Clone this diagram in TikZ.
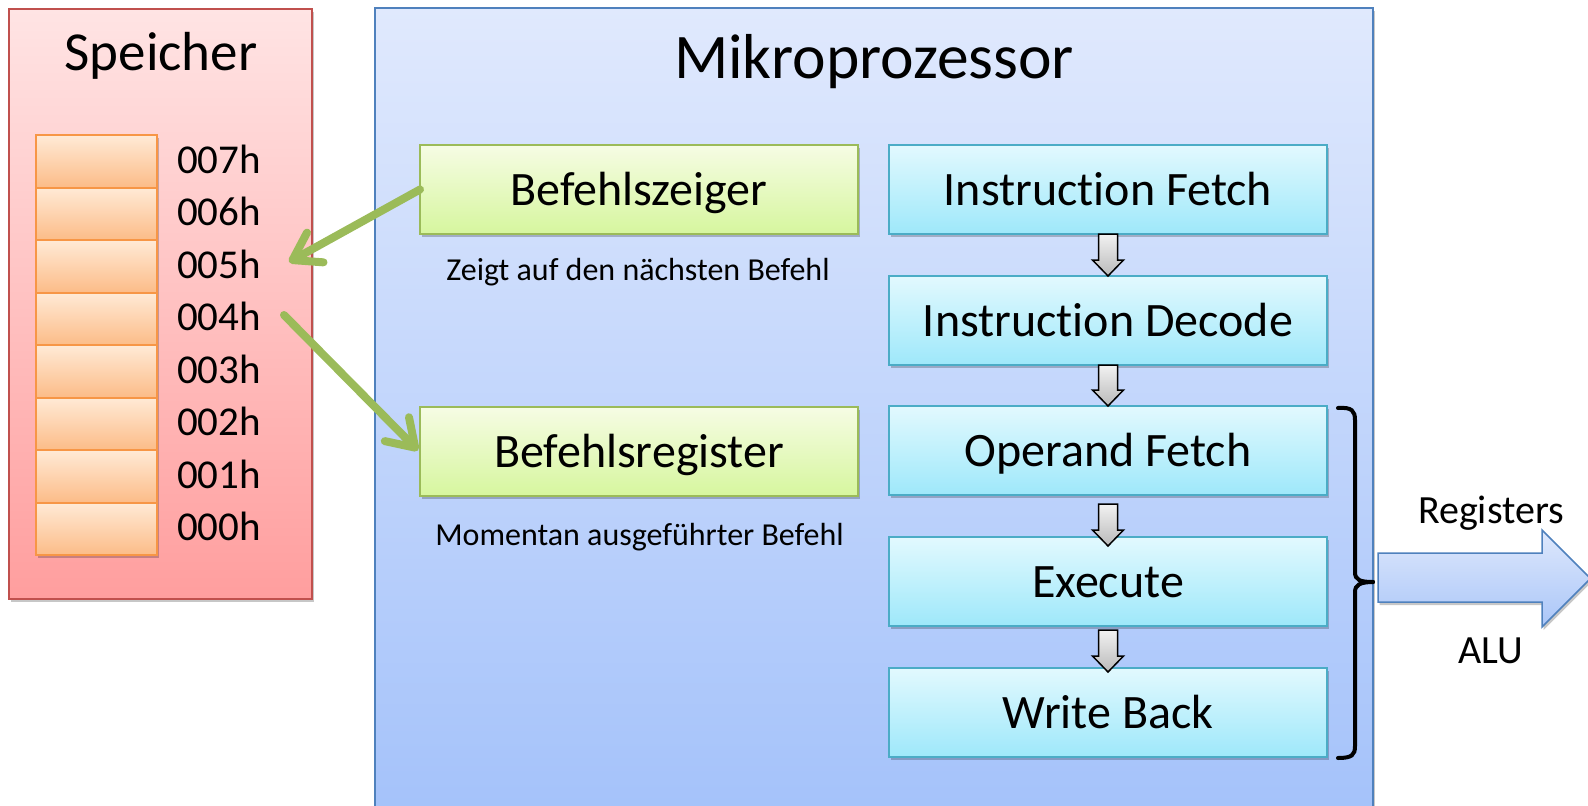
\documentclass[tikz,border=0pt]{standalone}
\usepackage{fontspec}
\setmainfont{Carlito}[Ligatures=NoCommon]
\usetikzlibrary{calc,shadows,arrows.meta}

\definecolor{memtop}{RGB}{255,228,228}
\definecolor{membot}{RGB}{255,158,158}
\definecolor{memborder}{RGB}{192,80,77}
\definecolor{celltop}{RGB}{255,234,214}
\definecolor{cellbot}{RGB}{252,188,136}
\definecolor{cellborder}{RGB}{247,150,70}
\definecolor{cputop}{RGB}{224,233,253}
\definecolor{cpubot}{RGB}{164,194,250}
\definecolor{cpuborder}{RGB}{79,129,189}
\definecolor{grtop}{RGB}{246,252,228}
\definecolor{grbot}{RGB}{214,246,158}
\definecolor{grborder}{RGB}{155,187,89}
\definecolor{cytop}{RGB}{226,249,254}
\definecolor{cybot}{RGB}{158,232,250}
\definecolor{cyborder}{RGB}{75,172,198}
\definecolor{arrgreen}{RGB}{155,187,89}
\definecolor{gatop}{RGB}{242,242,242}
\definecolor{gabot}{RGB}{185,185,185}
\definecolor{bigtop}{RGB}{222,232,252}
\definecolor{bigbot}{RGB}{170,198,248}

\newcommand{\garrow}[3]{%
  \path[grayarr]
    ($(#1.south)+(-9.5,#3)$) -- ($(#2.north)+(-9.5,#3-16)$) --
    ($(#2.north)+(-15.5,#3-16)$) -- ($(#2.north)+(0,#3)$) --
    ($(#2.north)+(15.5,#3-16)$) -- ($(#2.north)+(9.5,#3-16)$) --
    ($(#1.south)+(9.5,#3)$) -- cycle;}

\tikzset{
  every node/.style={inner sep=0pt, outer sep=0pt},
  shad/.style={drop shadow={shadow xshift=1.5pt, shadow yshift=-3pt, opacity=0.22, fill=black}},
  membox/.style={draw=memborder, line width=2pt, top color=memtop, bottom color=membot, shad},
  cpubox/.style={draw=cpuborder, line width=2pt, top color=cputop, bottom color=cpubot, shad},
  cellbox/.style={draw=cellborder, line width=2pt, top color=celltop, bottom color=cellbot,
    minimum width=121pt, minimum height=52.5pt, shad},
  addr/.style={anchor=base west, font=\fontsize{41}{48}\selectfont},
  regbox/.style={draw=grborder, line width=1.8pt, top color=grtop, bottom color=grbot,
    minimum width=438pt, minimum height=89pt, text height=31pt, text depth=0pt,
    font=\fontsize{48}{56}\selectfont, shad},
  stagebox/.style={draw=cyborder, line width=1.8pt, top color=cytop, bottom color=cybot,
    minimum width=438pt, minimum height=89pt, text height=31pt, text depth=0pt,
    font=\fontsize{48}{56}\selectfont, shad},
  caption/.style={anchor=base, font=\fontsize{32}{38}\selectfont},
  grayarr/.style={draw=black, line width=1.5pt, line join=miter, top color=gatop, bottom color=gabot},
  greenarr/.style={draw=arrgreen, line width=8pt, line cap=round,
    -{Straight Barb[length=26pt,width=34pt,line cap=round,line join=round]}},
  bracestyle/.style={draw=black, line width=4pt, line cap=round},
  bigarr/.style={draw=cpuborder, line width=1.5pt, top color=bigtop, bottom color=bigbot, shad},
  sidelabel/.style={anchor=base, font=\fontsize{40}{48}\selectfont},
}

\begin{document}
\begin{tikzpicture}[x=1pt,y=-1pt]
\useasboundingbox (0,0) rectangle (1588,806);

% ---------- memory ----------
\node[membox, minimum width=303pt, minimum height=590pt] (mem) at (160.5,304) {};
\node[anchor=base, font=\fontsize{55}{64}\selectfont] (memtitle) at (161,70) {Speicher};

\foreach \a [count=\k from 0] in {007h,006h,005h,004h,003h,002h,001h,000h}{
  \node[cellbox] (c\a) at (96.5,{161.25+52.5*\k}) {};
  \node[addr] (l\a) at (177,{173+52.5*\k}) {\a};
}

% ---------- processor ----------
\node[cpubox, minimum width=998pt, minimum height=810pt] (cpu) at (874,413) {};
\node[anchor=base, font=\fontsize{63.5}{74}\selectfont] (cputitle) at (874,78) {Mikroprozessor};

\node[regbox] (bz) at (639,189.5) {Befehlszeiger};
\node[caption] (bzc) at (638,280) {Zeigt auf den nächsten Befehl};
\node[regbox] (br) at (639,451.5) {Befehlsregister};
\node[caption] (brc) at (639.5,545) {Momentan ausgeführter Befehl};

\node[stagebox] (s1) at (1108,189.5) {Instruction Fetch};
\node[stagebox] (s2) at (1108,320.5) {Instruction Decode};
\node[stagebox] (s3) at (1108,450.5) {Operand Fetch};
\node[stagebox] (s4) at (1108,581.5) {Execute};
\node[stagebox] (s5) at (1108,712.5) {Write Back};

\garrow{s1}{s2}{0}
\garrow{s2}{s3}{0}
\garrow{s3}{s4}{9}
\garrow{s4}{s5}{4}

% ---------- green arrows ----------
\coordinate (t005) at (289,262);
\coordinate (f004) at (284,315);
\draw[greenarr] (bz.west) -- (t005);
\draw[greenarr] (f004) -- ($(br.west)+(-2,-1)$);

% ---------- brace ----------
\coordinate (bt) at (1338,408);
\coordinate (bm) at (1373,582);
\coordinate (bb) at (1338,758);
\draw[bracestyle] (bt) .. controls (1352,407) and (1355,411) .. (1355,420)
  -- (1355,572) .. controls (1355,580) and (1360,582) .. (bm);
\draw[bracestyle] (bm) .. controls (1360,582) and (1355,585) .. (1355,592)
  -- (1355,746) .. controls (1355,755) and (1352,758) .. (bb);

% ---------- big output arrow ----------
\path[bigarr] (1378,553) -- (1542,553) -- (1542,530) -- (1590.5,578.5)
  -- (1542,627) -- (1542,602) -- (1378,602) -- cycle;
\node[sidelabel] (reg) at (1491,523) {Registers};
\node[sidelabel] (alu) at (1491,663) {ALU};
\end{tikzpicture}
\end{document}
